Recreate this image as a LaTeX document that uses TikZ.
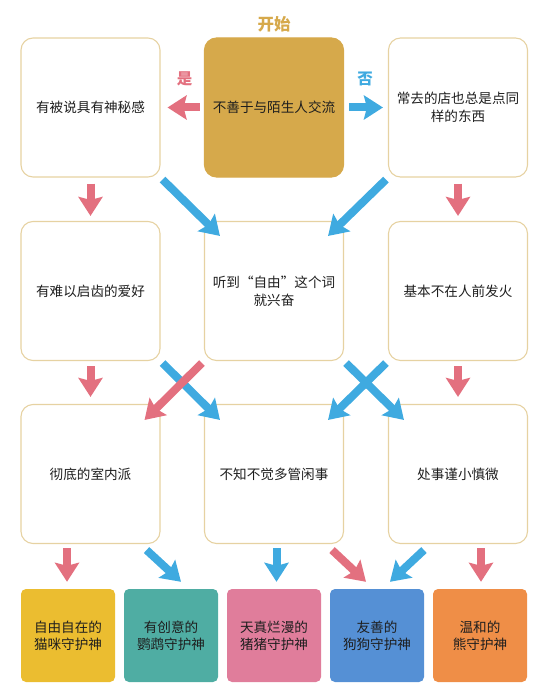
\documentclass[tikz,border=0pt]{standalone}
\usepackage{fontspec}
\setmainfont{Noto Sans CJK SC}
\usetikzlibrary{arrows.meta,calc}
\definecolor{boxline}{HTML}{E6D2A2}
\definecolor{gold}{HTML}{D6A94B}
\definecolor{pk}{HTML}{E3707F}
\definecolor{bl}{HTML}{3FAAE0}
\definecolor{txt}{HTML}{1E1E1E}
\definecolor{cY}{HTML}{EBBD30}
\definecolor{cT}{HTML}{4FADA3}
\definecolor{cP}{HTML}{E07D9B}
\definecolor{cB}{HTML}{5590D5}
\definecolor{cO}{HTML}{EF8E47}
\begin{document}
\begin{tikzpicture}[x=1pt,y=-1pt,
  qbox/.style={draw=boxline, line width=1.1pt, rounded corners=12pt, minimum width=139pt, minimum height=139pt, inner sep=0pt, align=center, font=\fontsize{13.6}{18}\selectfont, text=txt},
  res/.style={rounded corners=5pt, minimum width=94pt, minimum height=93pt, inner sep=0pt, align=center, font=\fontsize{13.6}{17}\selectfont, text=txt},
  parr/.style={draw=pk, line width=8pt, -{Stealth[length=19pt,width=24pt,inset=3pt]}},
  barr/.style={draw=bl, line width=8pt, -{Stealth[length=19pt,width=24pt,inset=3pt]}}]
\useasboundingbox (0,0) rectangle (550,687);
% row 1
\node[qbox] (tl) at (90.5,107.5) {有被说具有神秘感};
\node[qbox, fill=gold, draw=gold] (tc) at (274,107.5) {不善于与陌生人交流};
\node[qbox] (tr) at (458,107.5) {常去的店也总是点同\\样的东西};
% row 2
\node[qbox] (ml) at (90.5,291) {有难以启齿的爱好};
\node[qbox] (mc) at (274,291) {听到“自由”这个词\\就兴奋};
\node[qbox] (mr) at (458,291) {基本不在人前发火};
% row 3
\node[qbox] (ll) at (90.5,474) {彻底的室内派};
\node[qbox] (lc) at (274,474) {不知不觉多管闲事};
\node[qbox] (lr) at (458,474) {处事谨小慎微};
% results
\node[res, fill=cY] (r1) at (68,635.5) {自由自在的\\猫咪守护神};
\node[res, fill=cT] (r2) at (171,635.5) {有创意的\\鹦鹉守护神};
\node[res, fill=cP] (r3) at (274,635.5) {天真烂漫的\\猪猪守护神};
\node[res, fill=cB] (r4) at (377,635.5) {友善的\\狗狗守护神};
\node[res, fill=cO] (r5) at (480,635.5) {温和的\\熊守护神};
% labels
\node[text=gold, font=\fontsize{16.5}{17}\selectfont\bfseries] (start) at (274,24) {开始};
\node[text=pk, font=\fontsize{15.5}{16}\selectfont\bfseries] (yes) at (184.5,79) {是};
\node[text=bl, font=\fontsize{15.5}{16}\selectfont\bfseries] (no) at (365,79) {否};
% row 1 arrows
\draw[parr] ($(tc.west)+(-4,0)$) -- ($(tl.east)+(7,0)$);
\draw[barr] ($(tc.east)+(5,0)$) -- ($(tr.west)+(-5,0)$);
\draw[parr] ($(tl.south)+(0,6)$) -- ($(ml.north)+(0,-5)$);
\draw[parr] ($(tr.south)+(0,6)$) -- ($(mr.north)+(0,-5)$);
\draw[barr] ($(tl.south east)+(2,2)$) -- ($(mc.north west)+(16,15)$);
\draw[barr] ($(tr.south west)+(-2,2)$) -- ($(mc.north east)+(-16,15)$);
% row 2 arrows
\draw[parr] ($(ml.south)+(0,5)$) -- ($(ll.north)+(0,-7)$);
\draw[parr] ($(mr.south)+(0,5)$) -- ($(lr.north)+(0,-7)$);
\draw[barr] ($(ml.south east)+(2,2)$) -- ($(lc.north west)+(16,16)$);
\draw[parr] ($(mc.south west)+(-2,2)$) -- ($(ll.north east)+(-16,16)$);
\draw[barr] ($(mr.south west)+(-2,2)$) -- ($(lc.north east)+(-16,16)$);
\draw[barr] ($(mc.south east)+(2,2)$) -- ($(lr.north west)+(16,16)$);
% row 3 arrows
\draw[parr] ($(ll.south)+(-23.5,4)$) -- ($(r1.north)+(-1,-7)$);
\draw[barr] ($(ll.south east)+(-14,6)$) -- ($(r2.north)+(10,-7)$);
\draw[barr] ($(lc.south)+(2.5,4)$) -- ($(r3.north)+(2.5,-7)$);
\draw[parr] ($(lc.south east)+(-12,6)$) -- ($(r4.north)+(-11,-7)$);
\draw[barr] ($(lr.south west)+(36,6)$) -- ($(r4.north)+(13,-7)$);
\draw[parr] ($(lr.south)+(23,4)$) -- ($(r5.north)+(1,-7)$);
\end{tikzpicture}
\end{document}
